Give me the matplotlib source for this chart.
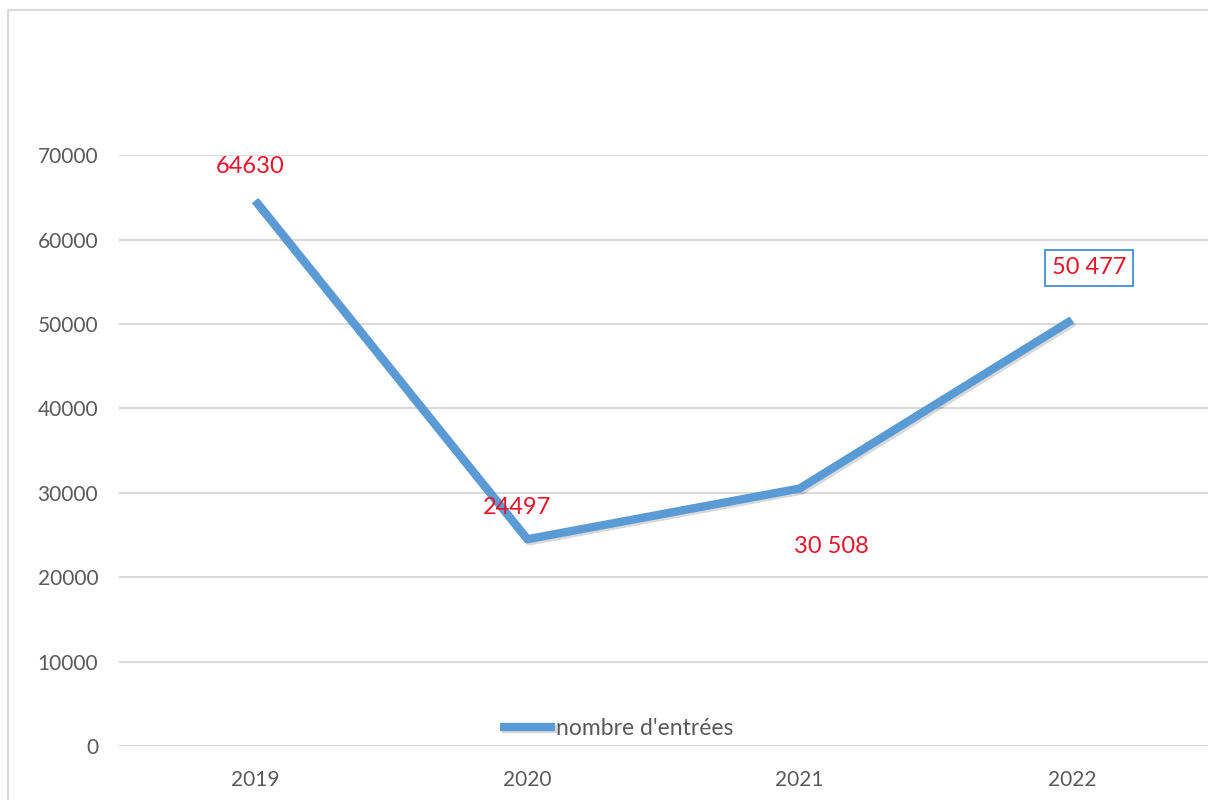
import matplotlib.pyplot as plt
import matplotlib.patheffects as pe
from matplotlib.patches import Rectangle

# Data
years = ['2019', '2020', '2021', '2022']
entries = [64630, 24497, 30508, 50477]
point_labels = ['64630', '24497', '30 508', '50 477']
y_ticks = [0, 10000, 20000, 30000, 40000, 50000, 60000, 70000]

plt.rcParams['font.family'] = ['Lato', 'DejaVu Sans']

fig = plt.figure(figsize=(12.08, 8), dpi=100)
ax = fig.add_axes([0.0985, 0.0675, 0.9015, 0.7385])

# Outer chart border
fig.patches.append(Rectangle((8 / 1208, -0.01), 1.02, 1 - 10 / 800 + 0.01,
                             transform=fig.transFigure, fill=False,
                             edgecolor='#d9d9d9', linewidth=1.5))

x = list(range(len(years)))
ax.plot(x, entries, color='#5b9bd5', linewidth=6, solid_capstyle='butt',
        label="nombre d'entrées",
        path_effects=[pe.SimpleLineShadow(offset=(1.5, -1.5), alpha=0.15),
                      pe.Normal()])

ax.set_xlim(-0.5, 3.5)
ax.set_ylim(0, 70000)
ax.set_yticks(y_ticks)
ax.set_xticks(x)
ax.set_xticklabels(years)
ax.yaxis.grid(True, color='#d9d9d9', linewidth=1.5)
ax.set_axisbelow(True)
for s in ax.spines.values():
    s.set_visible(False)
ax.tick_params(length=0, labelsize=15, colors='#595959', pad=15)
ax.tick_params(axis='x', pad=17)

# Data labels (positions relative to each point)
offsets = [(-5, 34), (-10, 32), (32, -58), (17, 52)]
for i, (val, lab) in enumerate(zip(entries, point_labels)):
    dx, dy = offsets[i]
    kw = {}
    if i == 3:
        kw['bbox'] = dict(boxstyle='square,pad=0.3', facecolor='white',
                          edgecolor='#4a8ccf', linewidth=1.3)
    ax.annotate(lab, (i, val), xytext=(dx, dy), textcoords='offset pixels',
                ha='center', va='center', color='#e8132a', fontsize=17, **kw)

ax.legend(loc='center', bbox_to_anchor=(0.457, 0.03), frameon=False,
          fontsize=16.5, handlelength=2.4, handletextpad=0.05,
          labelcolor='#595959')

fig.savefig('out.png', dpi=100, facecolor='white')
